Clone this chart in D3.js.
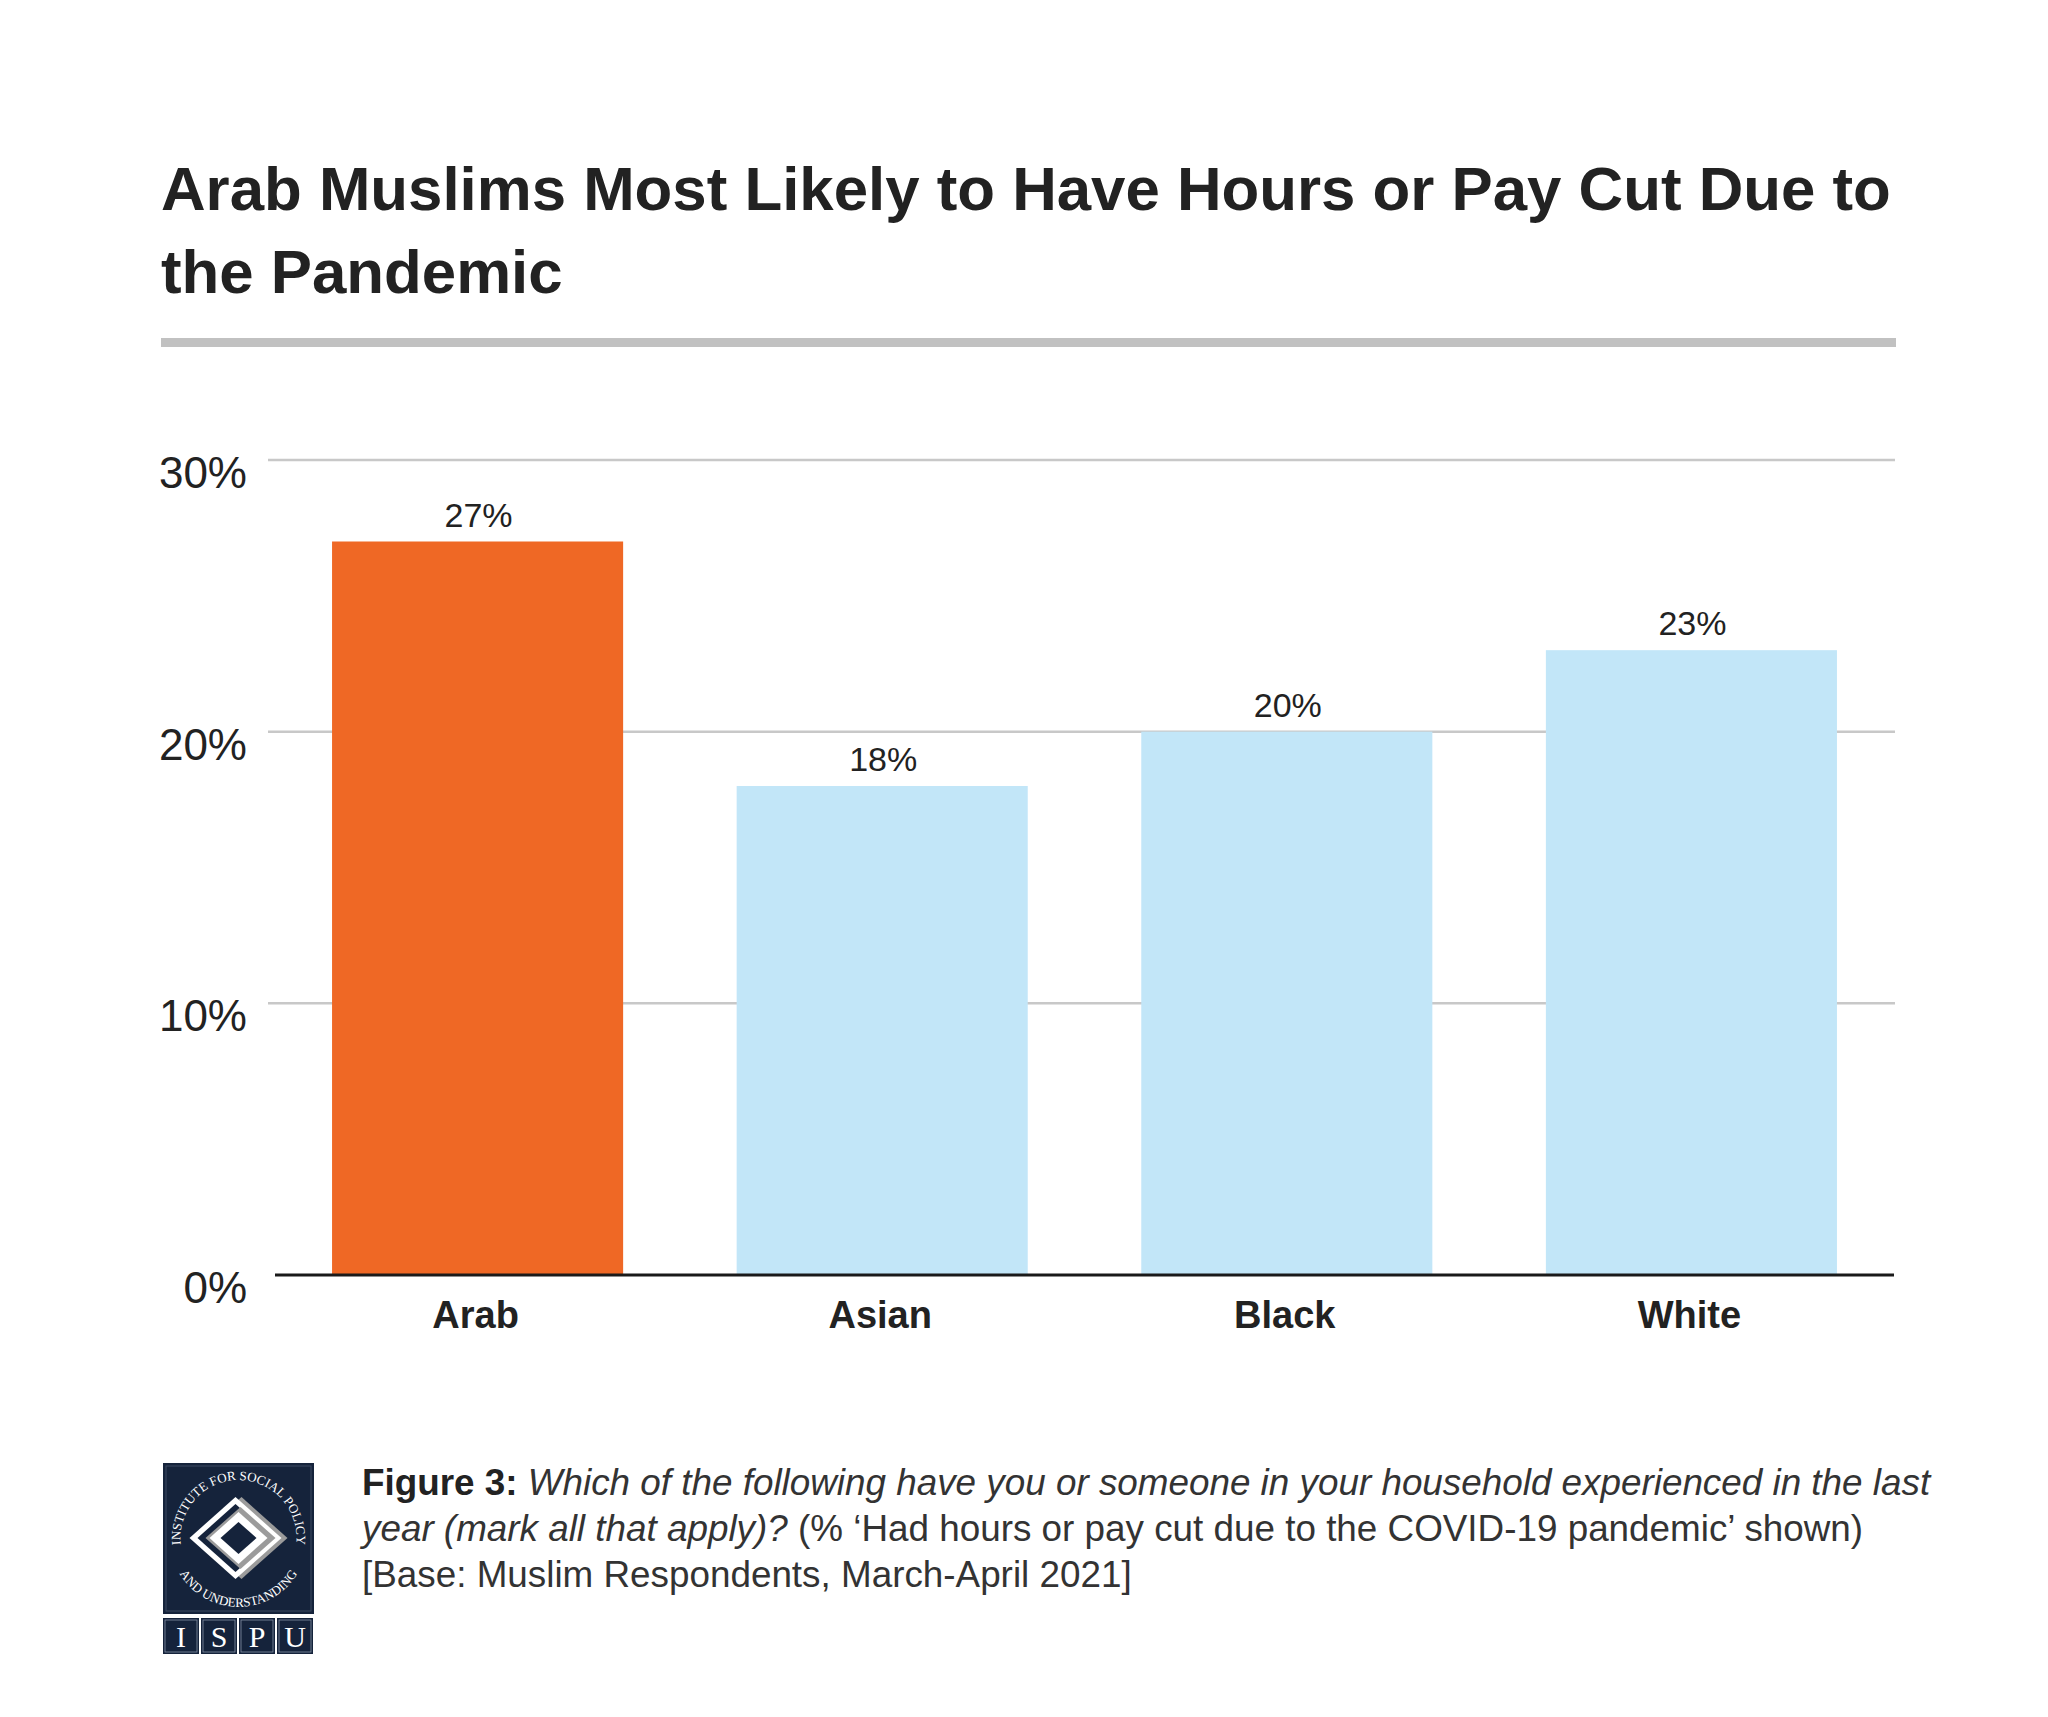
<!DOCTYPE html>
<html>
<head>
<meta charset="utf-8">
<script src="https://cdn.jsdelivr.net/npm/d3@7"></script>
<style>
  html, body { margin: 0; padding: 0; background: #fff; }
  svg { display: block; }
</style>
</head>
<body>
<script>
// ---------- Data ----------
const categories = ["Arab", "Asian", "Black", "White"];
const values = [27, 18, 20, 23];
const barColors = ["#ef6825", "#c2e6f8", "#c2e6f8", "#c2e6f8"];
const yTicks = [0, 10, 20, 30];
const yTickLabels = ["0%", "10%", "20%", "30%"];
const titleLines = [
  "Arab Muslims Most Likely to Have Hours or Pay Cut Due to",
  "the Pandemic"
];
const captionLines = [
  [{t: "Figure 3:", s: "bold"}, {t: " Which of the following have you or someone in your household experienced in the last", s: "italic"}],
  [{t: "year (mark all that apply)?", s: "italic"}, {t: " (% \u2018Had hours or pay cut due to the COVID-19 pandemic\u2019 shown)", s: "normal"}],
  [{t: "[Base: Muslim Respondents, March-April 2021]", s: "normal"}]
];
const logoLetters = ["I", "S", "P", "U"];
const logoRingTop = "INSTITUTE FOR SOCIAL POLICY";
const logoRingBottom = "AND UNDERSTANDING";

// ---------- Layout ----------
const W = 2048, H = 1717;
const FONT = "'Liberation Sans', Arial, sans-serif";
const SERIF = "'Liberation Serif', 'DejaVu Serif', serif";

const svg = d3.select("body").append("svg")
  .attr("width", W).attr("height", H)
  .attr("viewBox", `0 0 ${W} ${H}`);
svg.append("rect").attr("width", W).attr("height", H).attr("fill", "#fff");

function fitWidth(sel, target) {
  const node = sel.node();
  const fs = parseFloat(sel.attr("font-size"));
  const w = node.getComputedTextLength();
  if (w > 0) sel.attr("font-size", fs * target / w);
  return parseFloat(sel.attr("font-size"));
}

// ---------- Title ----------
const t1 = svg.append("text")
  .attr("x", 161).attr("y", 210)
  .attr("font-family", FONT).attr("font-weight", "bold")
  .attr("font-size", 66).attr("fill", "#222")
  .text(titleLines[0]);
const titleSize = fitWidth(t1, 1730);
svg.append("text")
  .attr("x", 161).attr("y", 293)
  .attr("font-family", FONT).attr("font-weight", "bold")
  .attr("font-size", titleSize).attr("fill", "#222")
  .text(titleLines[1]);

svg.append("rect")
  .attr("x", 161).attr("y", 338).attr("width", 1735).attr("height", 9)
  .attr("fill", "#c1c1c1");

// ---------- Scales ----------
const x = d3.scaleBand()
  .domain(categories)
  .range([275, 1894])
  .paddingInner(0.2806)
  .paddingOuter(0.141);

const y = d3.scaleLinear().domain([0, 30]).range([1275, 460]);

// Gridlines
svg.append("g").selectAll("line").data(yTicks.filter(d => d > 0)).join("line")
  .attr("x1", 268).attr("x2", 1895)
  .attr("y1", d => y(d)).attr("y2", d => y(d))
  .attr("stroke", "#c8c8c8").attr("stroke-width", 2.5);

// Y tick labels
svg.append("g").selectAll("text").data(yTicks).join("text")
  .attr("x", 247)
  .attr("y", d => y(d) + 28)
  .attr("text-anchor", "end")
  .attr("font-family", FONT).attr("font-size", 44).attr("fill", "#222")
  .text((d, i) => yTickLabels[i]);

// Bars
svg.append("g").selectAll("rect").data(categories).join("rect")
  .attr("x", d => x(d))
  .attr("y", (d, i) => y(values[i]))
  .attr("width", x.bandwidth())
  .attr("height", (d, i) => y(0) - y(values[i]))
  .attr("fill", (d, i) => barColors[i]);

// Baseline
svg.append("line")
  .attr("x1", 275).attr("x2", 1894)
  .attr("y1", y(0)).attr("y2", y(0))
  .attr("stroke", "#1a1a1a").attr("stroke-width", 3);

// Value labels
svg.append("g").selectAll("text").data(categories).join("text")
  .attr("x", d => x(d) + x.bandwidth() / 2 + 1)
  .attr("y", (d, i) => y(values[i]) - 15)
  .attr("text-anchor", "middle")
  .attr("font-family", FONT).attr("font-size", 34).attr("fill", "#222")
  .text((d, i) => values[i] + "%");

// Category labels
svg.append("g").selectAll("text").data(categories).join("text")
  .attr("x", d => x(d) + x.bandwidth() / 2 - 2)
  .attr("y", y(0) + 53)
  .attr("text-anchor", "middle")
  .attr("font-family", FONT).attr("font-weight", "bold")
  .attr("font-size", 38).attr("fill", "#222")
  .text(d => d);

// ---------- Caption ----------
const capTop = [1495, 1541, 1587];
const capNodes = captionLines.map((line, li) => {
  const t = svg.append("text")
    .attr("x", 362).attr("y", capTop[li])
    .attr("font-family", FONT).attr("font-size", 32).attr("fill", "#333");
  line.forEach(seg => {
    const ts = t.append("tspan").text(seg.t);
    if (seg.s === "bold") ts.attr("font-weight", "bold").attr("fill", "#222");
    if (seg.s === "italic") ts.attr("font-style", "italic");
  });
  return t;
});
const capSize = fitWidth(capNodes[0], 1569);
capNodes.forEach(n => n.attr("font-size", capSize));

// ---------- Logo ----------
const navy = "#15233b";
const logo = svg.append("g");
logo.append("rect").attr("x", 163).attr("y", 1463).attr("width", 151).attr("height", 151).attr("fill", navy);
logo.append("rect").attr("x", 166).attr("y", 1466).attr("width", 145).attr("height", 145)
  .attr("fill", "none").attr("stroke", "#3d4b63").attr("stroke-width", 1);
const cx = 238.5, cy = 1538;
function diamond(hw, hh, dx) {
  return `M${cx + dx - hw},${cy} L${cx + dx},${cy - hh} L${cx + dx + hw},${cy} L${cx + dx},${cy + hh} Z`;
}
logo.append("path").attr("d", diamond(46, 41, 3)).attr("fill", "#9b9b9b");
logo.append("path").attr("d", diamond(46, 41, -3)).attr("fill", "#ffffff");
logo.append("path").attr("d", diamond(38, 34, -3)).attr("fill", navy);
logo.append("path").attr("d", diamond(35, 31, 2)).attr("fill", "#9b9b9b");
logo.append("path").attr("d", diamond(29, 26, 0)).attr("fill", "#ffffff");
logo.append("path").attr("d", diamond(18, 16, 0)).attr("fill", navy);

const defs = svg.append("defs");
const rt = 58;
defs.append("path").attr("id", "arcTop")
  .attr("d", `M${cx - rt * 0.9},${cy + rt * 0.436} A${rt},${rt} 0 1,1 ${cx + rt * 0.9},${cy + rt * 0.436}`);
const rb = 69;
defs.append("path").attr("id", "arcBot")
  .attr("d", `M${cx - rb * 0.95},${cy + rb * 0.31} A${rb},${rb} 0 0,0 ${cx + rb * 0.95},${cy + rb * 0.31}`);
logo.append("text").attr("font-family", SERIF).attr("font-size", 13).attr("fill", "#fff")
  .append("textPath").attr("href", "#arcTop").attr("startOffset", "50%").attr("text-anchor", "middle")
  .text(logoRingTop);
logo.append("text").attr("font-family", SERIF).attr("font-size", 13).attr("fill", "#fff")
  .append("textPath").attr("href", "#arcBot").attr("startOffset", "50%").attr("text-anchor", "middle")
  .text(logoRingBottom);

const boxX = [163, 201, 239, 277];
logoLetters.forEach((L, i) => {
  logo.append("rect").attr("x", boxX[i]).attr("y", 1618).attr("width", 36).attr("height", 36).attr("fill", navy);
  logo.append("rect").attr("x", boxX[i] + 2).attr("y", 1620).attr("width", 32).attr("height", 32)
    .attr("fill", "none").attr("stroke", "#8591a6").attr("stroke-width", 0.8);
  logo.append("text").attr("x", boxX[i] + 18).attr("y", 1647).attr("text-anchor", "middle")
    .attr("font-family", SERIF).attr("font-size", 30).attr("fill", "#fff")
    .text(L);
});
</script>
</body>
</html>
